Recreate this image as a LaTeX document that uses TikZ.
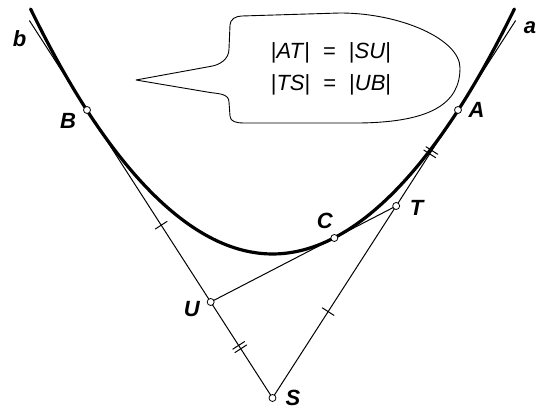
\documentclass[tikz,border=0pt]{standalone}
\usepackage{fontspec}
\setmainfont{Liberation Sans}
\usetikzlibrary{calc,decorations.markings}

\tikzset{
  thinline/.style={line width=1pt},
  thickcurve/.style={line width=3.2pt},
  pnt/.style={circle,draw,fill=white,line width=0.8pt,inner sep=0pt,minimum size=7pt},
  lbl/.style={font=\fontsize{22}{24}\selectfont\bfseries\itshape,inner sep=0pt},
  eqn/.style={font=\fontsize{22}{24}\selectfont,inner sep=0pt,anchor=base},
  onetick/.style={postaction={decorate},decoration={markings,
    mark=at position #1 with {\draw[thinline] (0pt,-7pt) -- (0pt,7pt);}}},
  twotick/.style={postaction={decorate},decoration={markings,
    mark=at position #1 with {\draw[thinline] (-2pt,-7pt) -- (-2pt,7pt) (2pt,-7pt) -- (2pt,7pt);}}}
}
\newcommand{\seglen}[1]{\textup{|}\textit{#1}\textup{|}}

\begin{document}
\begin{tikzpicture}[x=1pt,y=1pt,line cap=round,line join=round]
\useasboundingbox (0,0) rectangle (539,409);
\coordinate (A) at (458,299);
\coordinate (B) at (87,299);
\coordinate (S) at (272.5,11);
\coordinate (T) at ($(A)!1/3!(S)$);
\coordinate (U) at ($(S)!1/3!(B)$);
\coordinate (C) at ($(T)!1/3!(U)$);
\coordinate (aTop) at ($(S)!1.31!(A)$);
\coordinate (bTop) at ($(S)!1.31!(B)$);
\coordinate (P1) at (30.6,400);
\coordinate (V) at (272.5,155);
\coordinate (P2) at (514.4,400);
\draw[line width=0.9pt] (136,329) -- (210,342.5) to[out=8,in=-90] (229,360) -- (230,384)
  to[out=90,in=180] (242,393) -- (340,396) .. controls (400,396) and (460,370) .. (460,341)
  .. controls (460,305) and (430,287) .. (360,286) -- (243,286)
  to[out=180,in=-90] (230,293) -- (229,307) to[out=90,in=-8] (210,316.5) -- cycle;
\node[eqn] (eq1) at (331,350) {\seglen{AT}\hspace{13pt}=\hspace{13pt}\seglen{SU}};
\node[eqn] (eq2) at (331,318) {\seglen{TS}\hspace{13pt}=\hspace{13pt}\seglen{UB}};
\draw[thinline] (S) -- (aTop);
\draw[thinline] (S) -- (bTop);
\draw[thinline] (U) -- (T);
\path[onetick=0.6] (B) -- (U);
\path[onetick=0.45] (S) -- (T);
\path[twotick=0.47] (U) -- (S);
\path[twotick=0.44] (A) -- (T);
\draw[thickcurve] (P1) parabola bend (V) (P2);
\node[pnt] (pA) at (A) {};
\node[pnt] (pB) at (B) {};
\node[pnt] (pC) at (C) {};
\node[pnt] (pS) at (S) {};
\node[pnt] (pT) at (T) {};
\node[pnt] (pU) at (U) {};
\node[lbl] (la) at (530,381.5) {a};
\node[lbl] (lb) at (19.5,370) {b};
\node[lbl] (lA) at (476.5,299.5) {A};
\node[lbl] (lB) at (68,288.5) {B};
\node[lbl] (lC) at (324.7,188.5) {C};
\node[lbl] (lT) at (416.5,201) {T};
\node[lbl] (lU) at (191.7,100) {U};
\node[lbl] (lS) at (293,11.5) {S};
\end{tikzpicture}
\end{document}
